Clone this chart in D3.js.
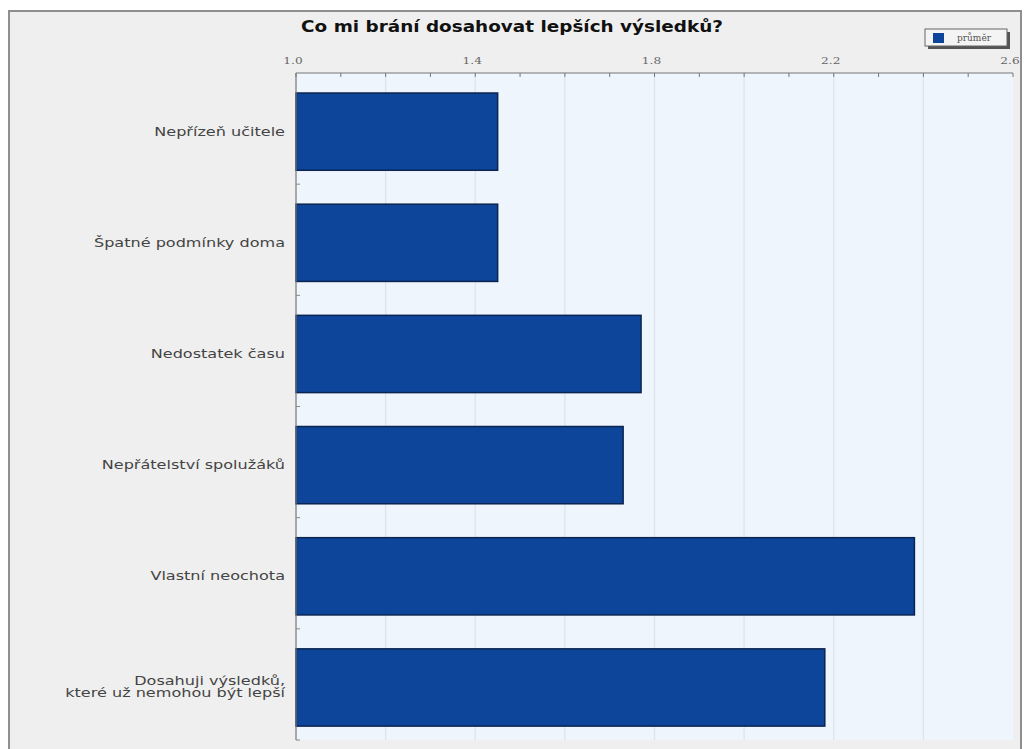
<!DOCTYPE html>
<html><head><meta charset="utf-8">
<script src="https://cdn.jsdelivr.net/npm/d3@7"></script>
<style>
html,body{margin:0;padding:0;background:#fff;}
svg{display:block;}
</style></head>
<body>
<script>
const title = "Co mi brání dosahovat lepších výsledků?";
const categories = [
  ["Nepřízeň učitele"],
  ["Špatné podmínky doma"],
  ["Nedostatek času"],
  ["Nepřátelství spolužáků"],
  ["Vlastní neochota"],
  ["Dosahuji výsledků,", "které už nemohou být lepší"]
];
const values = [1.45, 1.45, 1.77, 1.73, 2.38, 2.18];
const seriesName = "průměr";
const tickValues = [1.0, 1.4, 1.8, 2.2, 2.6];
const minorTicks = [1.0,1.1,1.2,1.3,1.4,1.5,1.6,1.7,1.8,1.9,2.0,2.1,2.2,2.3,2.4,2.5,2.6];
const gridValues = [1.2,1.4,1.6,1.8,2.0,2.2,2.4];

const W = 1027, H = 749;
const svg = d3.select("body").append("svg").attr("width", W).attr("height", H);

// outer frame
svg.append("rect").attr("x",0).attr("y",0).attr("width",W).attr("height",H).attr("fill","#fff");
svg.append("rect").attr("x",9).attr("y",11).attr("width",1012).attr("height",750)
  .attr("fill","#efefef").attr("stroke","#8f8f8f").attr("stroke-width",2);

const pL = 296, pR = 1013, pT = 73, pB = 740;
const x = d3.scaleLinear().domain([1.0, 2.6]).range([pL, pR]);
const idx = categories.map((d,i)=>i);
const y = d3.scaleBand().domain(idx).range([pT, pB]).paddingInner(0).paddingOuter(0);

// plot bg
svg.append("rect").attr("x",pL).attr("y",pT).attr("width",pR-pL).attr("height",pB-pT)
  .attr("fill","#eef5fd");

// grid
svg.append("g").selectAll("line").data(gridValues).join("line")
  .attr("x1",d=>x(d)).attr("x2",d=>x(d)).attr("y1",pT).attr("y2",pB)
  .attr("stroke","#dce3eb").attr("stroke-width",1.2);

// title
svg.append("text").attr("transform","translate(512,32) scale(1.15,1)").attr("text-anchor","middle")
  .attr("font-family","DejaVu Sans").attr("font-weight","bold").attr("font-size",16)
  .attr("fill","#111").text(title);

// top axis
const ax = svg.append("g").attr("transform",`translate(0,${pT})`);
ax.append("line").attr("x1",pL).attr("x2",pR).attr("y1",0).attr("y2",0).attr("stroke","#777").attr("stroke-width",1.2);
ax.selectAll("line.t").data(minorTicks).join("line").attr("class","t")
  .attr("x1",d=>x(d)).attr("x2",d=>x(d)).attr("y1",0).attr("y2",4).attr("stroke","#777");
ax.selectAll("text").data(tickValues).join("text")
  .attr("transform",d=>`translate(${x(d)-3},-9) scale(1.35,1)`).attr("text-anchor","middle")
  .attr("font-family","DejaVu Serif").attr("font-size",9).attr("fill","#666")
  .text(d=>d3.format(".1f")(d));

// bars
const step = y.step();
svg.append("g").selectAll("rect").data(values).join("rect")
  .attr("x",x(1.0)).attr("y",(d,i)=>y(i)+step*0.18)
  .attr("width",d=>x(d)-x(1.0)).attr("height",step*0.695)
  .attr("fill","#0d459b").attr("stroke","#0b2450").attr("stroke-width",1.5);

// y axis
svg.append("line").attr("x1",pL).attr("x2",pL).attr("y1",pT).attr("y2",pB).attr("stroke","#777").attr("stroke-width",1.2);
svg.append("g").selectAll("line").data(idx).join("line")
  .attr("x1",pL).attr("x2",pL+4).attr("y1",i=>y(i)+step).attr("y2",i=>y(i)+step).attr("stroke","#888");

// category labels
const lab = svg.append("g").selectAll("text").data(categories).join("text")
  .attr("text-anchor","end").attr("font-family","DejaVu Sans").attr("font-size",12).attr("fill","#444")
  .attr("transform",(d,i)=>`translate(285,${y(i)+step*0.18+step*0.695/2}) scale(1.34,1)`);
lab.each(function(d,i){
  const n = d.length;
  d3.select(this).selectAll("tspan").data(d).join("tspan")
    .attr("x",0).attr("y",(t,j)=>4+(j-(n-1)/2)*12).text(t=>t);
});

// legend
const lg = svg.append("g");
lg.append("rect").attr("x",928).attr("y",32).attr("width",82).attr("height",17).attr("fill","#555");
lg.append("rect").attr("x",925).attr("y",29).attr("width",82).attr("height",17).attr("fill","#f4f4f4").attr("stroke","#666");
lg.append("rect").attr("x",933).attr("y",33).attr("width",11).attr("height",10).attr("fill","#0d459b");
lg.append("text").attr("x",957).attr("y",41).attr("font-family","DejaVu Serif").attr("font-size",9).attr("fill","#555").text(seriesName);
</script>
</body></html>
